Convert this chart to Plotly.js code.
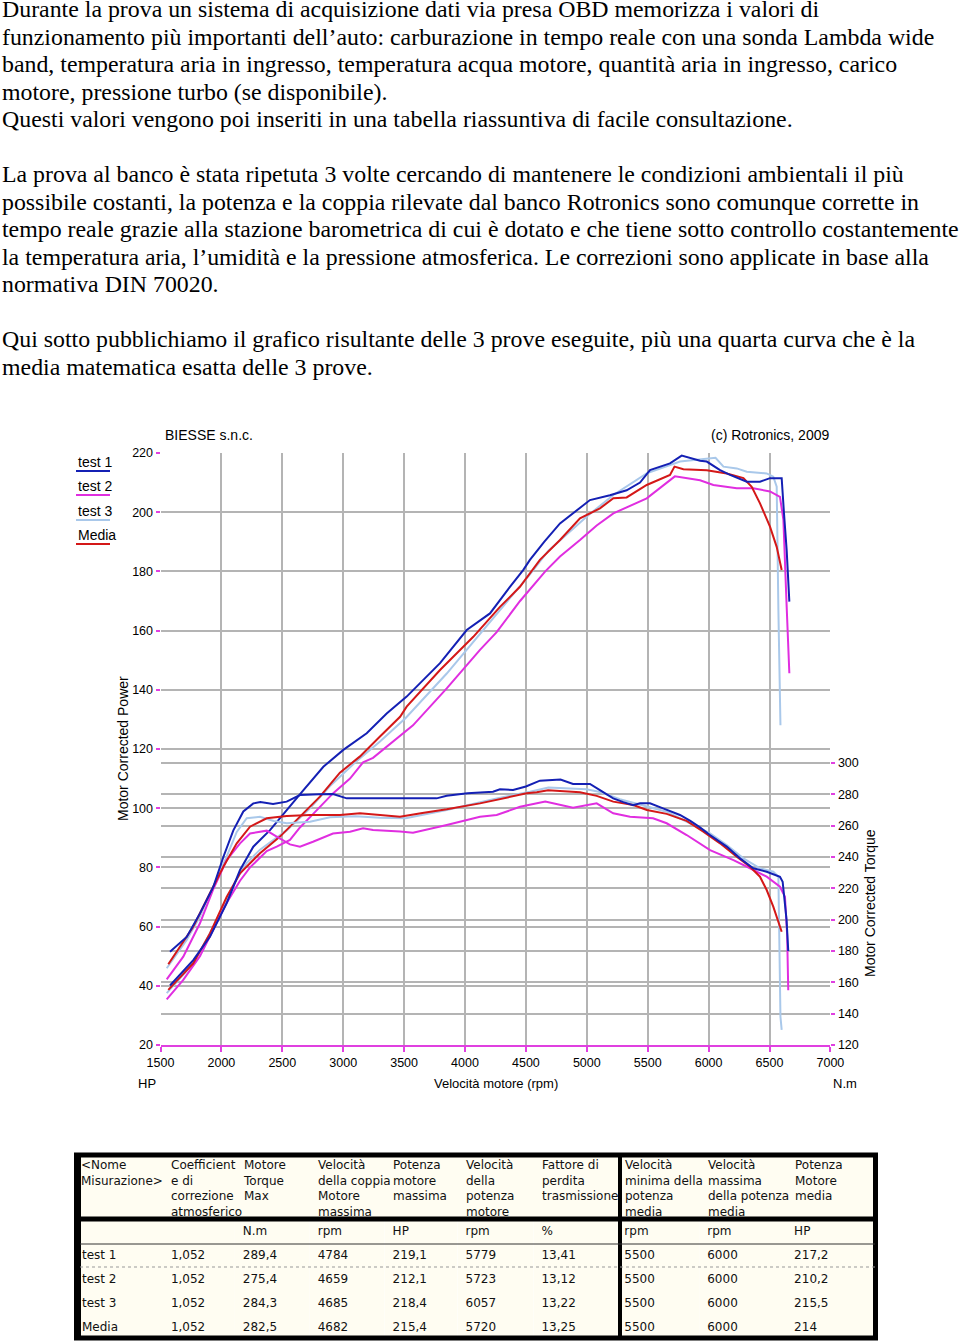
<!DOCTYPE html>
<html>
<head>
<meta charset="utf-8">
<script src="https://cdn.plot.ly/plotly-3.0.1.min.js"></script>
<style>
  html, body { margin:0; padding:0; background:#fff; }
  #page { position:relative; width:960px; height:1342px; overflow:hidden; }
  #chart { position:absolute; left:0; top:0; width:960px; height:1342px; }
  .txt { position:absolute; left:2px; font-family:"Liberation Serif","Times New Roman",serif; font-size:23.85px; color:#000; white-space:nowrap; z-index:5; }
  #txt1 { top:0px; line-height:19.5px; }
  #txt2 { top:23.5px; line-height:27.5px; }
</style>
</head>
<body>
<div id="page">
  <div id="chart"></div>
  <div id="txt1" class="txt"></div>
  <div id="txt2" class="txt"></div>
</div>
<script>
// ---------- text ----------
const introLines = [
  "Durante la prova un sistema di acquisizione dati via presa OBD memorizza i valori di",
  "funzionamento più importanti dell’auto: carburazione in tempo reale con una sonda Lambda wide",
  "band, temperatura aria in ingresso, temperatura acqua motore, quantità aria in ingresso, carico",
  "motore, pressione turbo (se disponibile).",
  "Questi valori vengono poi inseriti in una tabella riassuntiva di facile consultazione.",
  "",
  "La prova al banco è stata ripetuta 3 volte cercando di mantenere le condizioni ambientali il più",
  "possibile costanti, la potenza e la coppia rilevate dal banco Rotronics sono comunque corrette in",
  "tempo reale grazie alla stazione barometrica di cui è dotato e che tiene sotto controllo costantemente",
  "la temperatura aria, l’umidità e la pressione atmosferica. Le correzioni sono applicate in base alla",
  "normativa DIN 70020.",
  "",
  "Qui sotto pubblichiamo il grafico risultante delle 3 prove eseguite, più una quarta curva che è la",
  "media matematica esatta delle 3 prove."
];
document.getElementById('txt1').innerHTML = introLines[0];
document.getElementById('txt2').innerHTML = introLines.slice(1).map(l => l === "" ? "&nbsp;" : l).join("<br>");

// ---------- chart data ----------
const xTicks = [1500,2000,2500,3000,3500,4000,4500,5000,5500,6000,6500,7000];
const hpTicks = [20,40,60,80,100,120,140,160,180,200,220];
const nmTicks = [120,140,160,180,200,220,240,260,280,300];

// Test 1 (blue)
const t1_rpm_power = [1578,1769,1906,2043,2153,2262,2399,2536,2672,2837,3001,3193,3357,3521,3795,4014,4205,4369,4479,4533,4650,4780,4917,5026,5190,5327,5437,5519,5683,5779,5930,5985,6094,6176,6313,6422,6504,6600,6619,6641,6663];
const t1_power =     [40.1,48.7,56.6,67.9,79.1,87.0,92.6,99.5,106.0,114.0,119.7,125.3,132.0,137.7,149.0,160.2,165.8,174.8,180.5,183.9,190.0,196.2,200.7,204.1,205.7,207.4,210.0,214.2,216.5,219.1,217.4,217.1,214.2,212.6,210.3,210.3,211.5,211.5,199.6,187.2,169.8];
const t1_rpm_torque = [1578,1715,1824,1934,2016,2098,2180,2262,2320,2424,2536,2645,2800,2916,3029,3138,3467,3767,3850,4020,4230,4287,4395,4500,4615,4784,4887,5026,5108,5217,5300,5380,5437,5519,5626,5765,5850,5929,6011,6149,6258,6367,6477,6586,6608,6625,6640,6654];
const t1_torque =     [179.5,189.0,204.0,221.0,240.0,257.0,269.0,274.2,275.0,273.8,275.3,279.5,280.0,280.2,277.4,277.4,277.4,277.4,279.0,280.6,281.6,283.2,282.7,285.0,288.7,289.4,286.6,286.6,282.7,277.4,275.0,273.0,274.2,274.2,271.0,266.8,263.0,258.9,254.0,246.6,239.1,232.8,230.6,227.4,224.2,212.0,200.0,180.0];

// Test 2 (magenta)
const t2_rpm_power = [1551,1687,1824,1931,2043,2153,2235,2372,2454,2563,2645,2752,2916,3056,3163,3245,3467,3573,3850,4123,4260,4452,4659,4780,4944,5081,5218,5492,5723,5930,6039,6231,6367,6504,6586,6614,6641,6663];
const t2_power =     [35.4,42.0,50.0,59.0,68.0,75.5,80.0,85.5,87.0,89.3,93.5,98.0,105.0,110.0,115.5,117.0,124.5,128.0,140.5,153.5,159.5,170.0,180.0,185.0,190.6,195.5,199.6,204.7,212.1,210.8,209.2,208.1,208.1,207.0,205.2,197.4,168.1,145.6];
const t2_rpm_torque = [1551,1687,1824,1931,2043,2153,2235,2290,2372,2454,2563,2645,2752,2916,3056,3163,3245,3467,3573,3850,4123,4260,4452,4659,4887,5081,5217,5355,5544,5656,5820,6012,6204,6340,6477,6586,6627,6645,6654];
const t2_torque =     [161.9,176.4,197.7,219.0,238.0,248.7,255.0,255.7,256.8,253.0,248.0,246.6,249.7,255.0,256.1,258.3,257.2,256.3,255.5,260.4,265.7,266.8,272.0,275.4,271.4,274.2,267.9,265.7,264.7,261.5,254.0,244.4,238.0,232.8,227.4,221.0,214.6,190.0,155.0];

// Test 3 (light blue)
const t3_rpm_power = [1551,1715,1824,1934,2043,2126,2208,2317,2536,2727,2892,3100,3302,3513,3850,4260,4533,4685,4998,5218,5492,5765,6057,6122,6231,6313,6477,6531,6559,6573,6581,6590];
const t3_power =     [37.5,45.0,51.5,60.0,69.0,76.0,81.5,86.0,92.5,100.0,107.5,115.5,122.5,130.5,145.5,165.5,179.0,187.0,198.5,205.8,213.1,217.1,218.4,215.4,214.8,213.7,213.1,212.0,208.6,167.0,144.4,128.0];
const t3_rpm_torque = [1551,1715,1824,1934,2043,2126,2208,2317,2430,2536,2727,2892,3100,3302,3513,3850,4260,4533,4685,4998,5108,5272,5437,5656,5793,6012,6149,6286,6422,6531,6573,6581,6590,6600];
const t3_torque =     [169.0,187.0,202.0,221.0,240.2,256.0,264.7,265.7,263.0,261.5,262.5,265.3,266.0,265.0,264.7,270.0,277.4,281.6,284.3,283.2,281.5,276.8,273.2,268.9,263.6,255.0,247.6,239.1,232.8,230.6,227.4,187.0,138.0,129.6];

// Media (red)
const m_rpm_power = [1564,1769,1906,2043,2153,2317,2481,2645,2809,2973,3138,3302,3467,3521,3795,4068,4287,4451,4615,4780,4944,5108,5218,5327,5492,5683,5720,5793,5985,6149,6286,6354,6422,6504,6559,6600];
const m_power =     [38.6,47.6,57.7,70.0,78.0,84.8,90.4,97.2,103.9,112.0,117.5,124.2,130.9,134.3,146.7,157.9,168.0,174.8,183.9,190.6,197.9,201.3,204.7,205.0,209.2,212.6,215.4,214.5,214.2,213.1,211.5,208.6,203.0,195.1,188.3,180.5];
const m_rpm_torque = [1564,1769,1906,2016,2126,2235,2372,2536,2727,2974,3138,3302,3466,3650,3850,4123,4395,4506,4589,4682,4944,5081,5217,5382,5493,5656,5765,5820,5957,6094,6231,6340,6422,6477,6531,6600];
const m_torque =     [171.5,195.5,216.8,233.8,248.7,259.3,264.7,266.1,266.8,266.8,267.9,266.8,265.7,268.0,270.4,274.2,278.5,280.6,281.3,282.5,281.3,279.0,275.3,273.2,270.0,267.5,264.5,263.0,256.1,248.7,240.2,233.8,227.4,218.9,208.3,192.3];

// ---------- table data ----------
const tableHeaders = [
  "&lt;Nome<br>Misurazione&gt;",
  "Coefficient<br>e di<br>correzione<br>atmosferico",
  "Motore<br>Torque<br>Max",
  "Velocità<br>della coppia<br>Motore<br>massima",
  "Potenza<br>motore<br>massima",
  "Velocità<br>della<br>potenza<br>motore",
  "Fattore di<br>perdita<br>trasmissione",
  "Velocità<br>minima della<br>potenza<br>media",
  "Velocità<br>massima<br>della potenza<br>media",
  "Potenza<br>Motore<br>media"
];
const tableUnits = ["", "", "N.m", "rpm", "HP", "rpm", "%", "rpm", "rpm", "HP"];
const rowNames = ["test 1", "test 2", "test 3", "Media"];
const colCoeff = ["1,052", "1,052", "1,052", "1,052"];
const colTorqueMax = ["289,4", "275,4", "284,3", "282,5"];
const colTorqueRpm = ["4784", "4659", "4685", "4682"];
const colPowerMax = ["219,1", "212,1", "218,4", "215,4"];
const colPowerRpm = ["5779", "5723", "6057", "5720"];
const colLoss = ["13,41", "13,12", "13,22", "13,25"];
const colMinRpm = ["5500", "5500", "5500", "5500"];
const colMaxRpm = ["6000", "6000", "6000", "6000"];
const colAvgPower = ["217,2", "210,2", "215,5", "214"];

// ---------- layout helpers ----------
const W = 960, H = 1342;
const px = v => v / W;
const py = v => 1 - v / H;

const C_BLUE = '#1420b4', C_MAG = '#e02ee0', C_LB = '#a9c8ea', C_RED = '#d41818';
const MAG_AXIS = '#e040e0';
const FONT = '"Liberation Sans", Arial, sans-serif';
const TFONT = '"DejaVu Sans", sans-serif';
const CREAM = '#fffdf2';

function line(x, y, color, axis) {
  return { type:'scatter', mode:'lines', x:x, y:y, yaxis:axis, line:{color:color, width:2}, hoverinfo:'skip', showlegend:false };
}

// table column layout (left edge of each column, px)
const tableLeft = 74, tableRight = 878;
const colStarts = [74, 163, 235, 310, 385, 458, 534, 617, 700, 787];
const colWidths = colStarts.map((s, i) => (i < colStarts.length - 1 ? colStarts[i + 1] : tableRight) - s);

const tableCols = [
  rowNames, colCoeff, colTorqueMax, colTorqueRpm, colPowerMax,
  colPowerRpm, colLoss, colMinRpm, colMaxRpm, colAvgPower
];

const traces = [
  line(t3_rpm_torque, t3_torque, C_LB, 'y2'),
  line(t3_rpm_power, t3_power, C_LB, 'y'),
  line(t2_rpm_torque, t2_torque, C_MAG, 'y2'),
  line(t2_rpm_power, t2_power, C_MAG, 'y'),
  line(m_rpm_torque, m_torque, C_RED, 'y2'),
  line(m_rpm_power, m_power, C_RED, 'y'),
  line(t1_rpm_torque, t1_torque, C_BLUE, 'y2'),
  line(t1_rpm_power, t1_power, C_BLUE, 'y'),
  {
    type:'table',
    domain:{ x:[px(tableLeft), px(tableRight)], y:[py(1341), py(1218)] },
    columnwidth:colWidths,
    header:{ values:tableUnits, align:'left', height:24,
             fill:{color:CREAM}, line:{color:CREAM, width:0},
             font:{family:TFONT, size:12, color:'#111'} },
    cells:{ values:tableCols, align:'left', height:24,
            fill:{color:CREAM}, line:{color:CREAM, width:0},
            font:{family:TFONT, size:12, color:'#111'} }
  }
];

const ann = (text, x, y, opts) => Object.assign({
  text:text, x:px(x), y:py(y), xref:'paper', yref:'paper', showarrow:false,
  xanchor:'center', yanchor:'middle', font:{family:FONT, size:13, color:'#000'}
}, opts || {});

const annotations = [
  ann('BIESSE s.n.c.', 163, 435, {xanchor:'left', font:{family:FONT, size:14, color:'#000'}}),
  ann('(c) Rotronics, 2009', 831, 435, {xanchor:'right', font:{family:FONT, size:14, color:'#000'}}),
  ann('test 1', 76, 462, {xanchor:'left', font:{family:FONT, size:14, color:'#000'}}),
  ann('test 2', 76, 486, {xanchor:'left', font:{family:FONT, size:14, color:'#000'}}),
  ann('test 3', 76, 511, {xanchor:'left', font:{family:FONT, size:14, color:'#000'}}),
  ann('Media', 76, 535, {xanchor:'left', font:{family:FONT, size:14, color:'#000'}}),
  ann('Motor Corrected Power', 123, 748, {textangle:-90, font:{family:FONT, size:14, color:'#000'}}),
  ann('Motor Corrected Torque', 870, 903, {textangle:-90, font:{family:FONT, size:14, color:'#000'}}),
  ann('HP', 147, 1083),
  ann('Velocità motore (rpm)', 496, 1083),
  ann('N.m', 845, 1083)
];
// column titles of the table
tableHeaders.forEach((h, i) => {
  annotations.push({
    text:h, x:px(colStarts[i] + (i === 0 ? 5 : 6)), y:py(1156), xref:'paper', yref:'paper',
    showarrow:false, xanchor:'left', yanchor:'top', align:'left',
    font:{family:TFONT, size:12, color:'#111'}
  });
});

const shp = (x0, y0, x1, y1, color, width, dash) => ({
  type:'line', xref:'paper', yref:'paper', x0:px(x0), y0:py(y0), x1:px(x1), y1:py(y1),
  line:{color:color, width:width, dash:dash || 'solid'}, layer:'above'
});

const shapes = [
  // header background of the table
  { type:'rect', xref:'paper', yref:'paper', x0:px(76), x1:px(878), y0:py(1220), y1:py(1153),
    fillcolor:CREAM, line:{width:0}, layer:'below' },
  // legend underlines
  shp(76, 471, 110, 471, C_BLUE, 2),
  shp(76, 495, 110, 495, C_MAG, 2),
  shp(76, 520, 110, 520, C_LB, 2),
  shp(76, 544, 110, 544, C_RED, 2),
  // table borders
  shp(74, 1155, 878, 1155, '#000', 5),
  shp(74, 1338, 878, 1338, '#000', 5),
  shp(77.5, 1153, 77.5, 1340, '#000', 7),
  shp(875.5, 1153, 875.5, 1340, '#000', 5),
  shp(74, 1219, 878, 1219, '#000', 5),
  shp(620, 1153, 620, 1340, '#000', 4),
  shp(80, 1244, 875, 1244, '#333', 1),
  shp(80, 1267, 875, 1267, '#999', 1, 'dot')
];

const layout = {
  width:W, height:H,
  margin:{l:0, r:0, t:0, b:0},
  paper_bgcolor:'#fff', plot_bgcolor:'#fff',
  showlegend:false,
  font:{family:FONT, size:12.5, color:'#000'},
  xaxis:{
    domain:[px(160.5), px(830.4)], range:[1500, 7000],
    tickmode:'array', tickvals:xTicks, ticktext:xTicks.map(String),
    ticks:'outside', ticklen:5, tickwidth:2, tickcolor:MAG_AXIS,
    showline:true, linecolor:MAG_AXIS, linewidth:2,
    showgrid:true, gridcolor:'#b4b4b4', gridwidth:2, zeroline:false,
    tickfont:{family:FONT, size:12.5, color:'#000'}, fixedrange:true
  },
  yaxis:{
    domain:[py(1045), py(453)], range:[20, 220],
    tickmode:'array', tickvals:hpTicks,
    ticks:'outside', ticklen:4, tickwidth:2, tickcolor:MAG_AXIS,
    showline:false, showgrid:true, gridcolor:'#b4b4b4', gridwidth:2, zeroline:false,
    tickfont:{family:FONT, size:12.5, color:'#000'}, fixedrange:true
  },
  yaxis2:{
    overlaying:'y', side:'right', range:[120, 497.8],
    tickmode:'array', tickvals:nmTicks,
    ticks:'outside', ticklen:4, tickwidth:2, tickcolor:MAG_AXIS,
    showline:false, showgrid:true, gridcolor:'#b4b4b4', gridwidth:2, zeroline:false,
    tickfont:{family:FONT, size:12.5, color:'#000'}, fixedrange:true
  },
  annotations:annotations,
  shapes:shapes
};

Plotly.newPlot('chart', traces, layout, {staticPlot:true, displayModeBar:false});
</script>
</body>
</html>
